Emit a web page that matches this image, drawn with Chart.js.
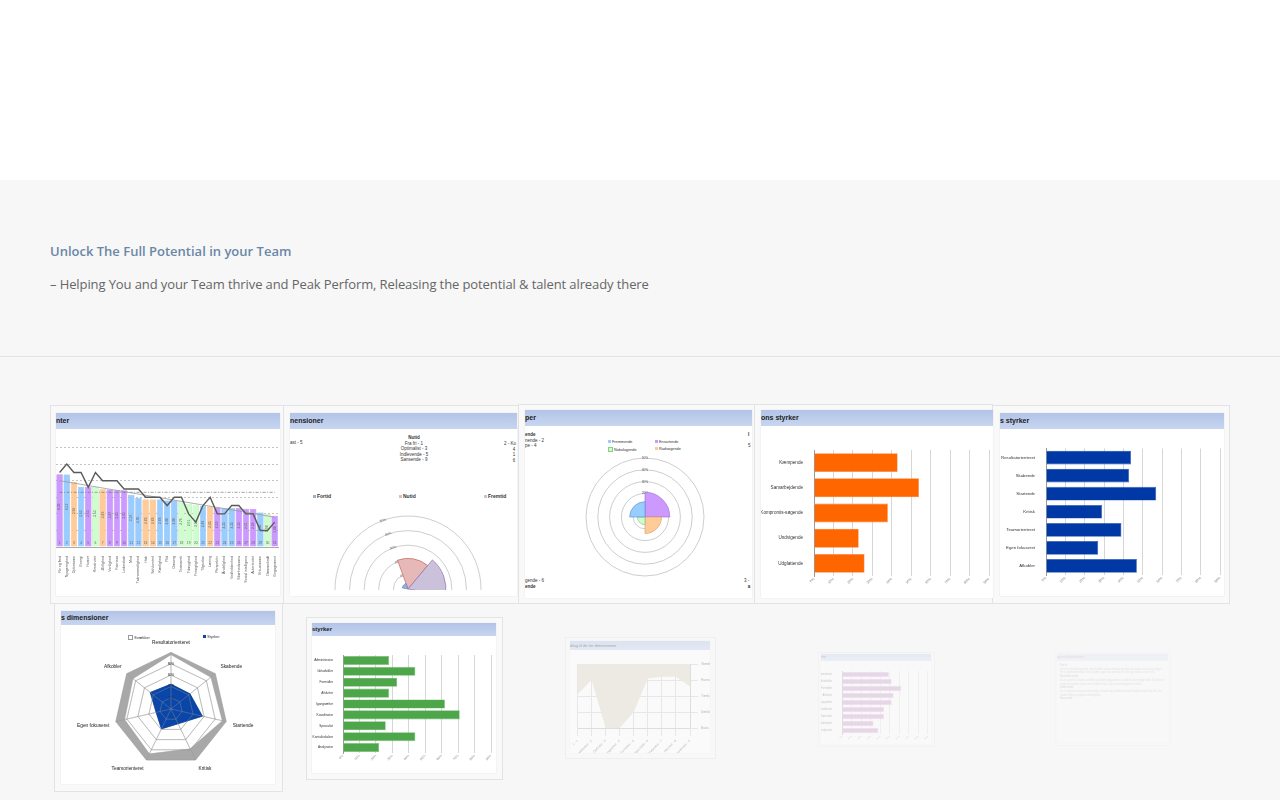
<!DOCTYPE html>
<html>
<head>
<meta charset="utf-8">
<script src="https://cdn.jsdelivr.net/npm/chart.js@4.4.1/dist/chart.umd.min.js"></script>
<style>
html,body{margin:0;padding:0}
body{width:1280px;height:800px;background:#f7f7f7;position:relative;overflow:hidden;font-family:'Open Sans',sans-serif}
#top{position:absolute;left:0;top:0;width:1280px;height:180px;background:#fff}
#rule{position:absolute;left:0;top:356px;width:1280px;height:1px;background:#e2e2e2}
.lead{position:absolute;left:50px;top:242px;font-size:13px;font-weight:600;color:#6a87a6;line-height:18px;white-space:nowrap}
.sub{position:absolute;left:50px;top:275px;font-size:13px;letter-spacing:-0.1px;color:#666;line-height:18px;white-space:nowrap}
.box{position:absolute;box-sizing:border-box;border:1px solid #e3e3e3;background:#f9f9f9}
.pic{position:absolute;background:#fff;overflow:hidden;box-shadow:0 0 1px rgba(0,0,0,.15)}
.hdr{position:absolute;left:0;top:0;right:0;background:linear-gradient(#b2c4e8,#c7d5ef);font-family:'Liberation Sans',Arial,sans-serif;font-weight:bold;color:#1d1d1d;white-space:nowrap}
.pic canvas{position:absolute}
.clip{position:absolute;left:0;top:0;right:0;overflow:hidden}
.t{position:absolute;font-family:'Liberation Sans',Arial,sans-serif;color:#333;white-space:nowrap;line-height:1}
.sw{display:inline-block;width:3px;height:3px;margin-right:1px;vertical-align:middle}
</style>
</head>
<body>
<div id="top"></div>
<div class="lead">Unlock The Full Potential in your Team</div>
<div class="sub">– Helping You and your Team thrive and Peak Perform, Releasing the potential &amp; talent already there</div>
<div id="rule"></div>

<!-- row 1 -->
<div class="box" style="left:50px;top:405px;width:234px;height:199px"></div>
<div class="box" style="left:283px;top:405px;width:236px;height:199px"></div>
<div class="box" style="left:518px;top:404px;width:237px;height:200px"></div>
<div class="box" style="left:754px;top:404px;width:239px;height:200px"></div>
<div class="box" style="left:992px;top:405px;width:238px;height:199px"></div>

<div class="pic" style="left:56px;top:413px;width:224px;height:183px">
  <div class="hdr" style="height:16px;font-size:7px;line-height:16px">nter</div>
  <canvas id="c1" width="224" height="166" style="left:0;top:17px"></canvas>
</div>

<div class="pic" style="left:290px;top:413px;width:227px;height:183px">
  <div class="hdr" style="height:16px;font-size:7px;line-height:16px">nensioner</div>
  <div class="t" style="left:74px;top:22px;width:100px;text-align:center;font-size:4.5px;line-height:5.5px"><b>Nutid</b><br>Fra fri - 1<br>Optimalist - 3<br>Indlevende - 5<br>Sansende - 9</div>
  <div class="t" style="left:0;top:28px;font-size:4.5px">ast - 5</div>
  <div class="t" style="left:214px;top:28px;font-size:4.5px;line-height:5.5px">2 - Ko<br>&nbsp;&nbsp;&nbsp;&nbsp;&nbsp;&nbsp;&nbsp;4<br>&nbsp;&nbsp;&nbsp;&nbsp;&nbsp;&nbsp;&nbsp;1<br>&nbsp;&nbsp;&nbsp;&nbsp;&nbsp;&nbsp;&nbsp;6</div>
  <div class="t" style="left:23px;top:81px;font-size:5px;font-weight:bold"><span class="sw" style="background:#95b3d7"></span>Fortid</div>
  <div class="t" style="left:109px;top:81px;font-size:5px;font-weight:bold"><span class="sw" style="background:#e6b9b8"></span>Nutid</div>
  <div class="t" style="left:194px;top:81px;font-size:5px;font-weight:bold"><span class="sw" style="background:#ccc1da"></span>Fremtid</div>
  <div class="clip" style="height:177px"><canvas id="c2" width="154" height="154" style="left:41px;top:99px"></canvas></div>
</div>

<div class="pic" style="left:525px;top:410px;width:227px;height:188px">
  <div class="hdr" style="height:16px;font-size:7px;line-height:16px">per</div>
  <div class="t" style="left:0;top:22px;font-size:4.5px;line-height:5.5px"><b>ende</b><br>nende - 2<br>pe - 4</div>
  <div class="t" style="left:0;top:168px;font-size:4.5px;line-height:5.5px">gende - 6<br><b>ende</b></div>
  <div class="t" style="left:223px;top:22px;font-size:4.5px;line-height:5.5px"><b>I</b><br><br>5</div>
  <div class="t" style="left:219px;top:168px;font-size:4.5px;line-height:5.5px">3 -<br>&nbsp;&nbsp;&nbsp;<b>a</b></div>
  <div class="t" style="left:83px;top:30px;font-size:3.8px"><span class="sw" style="background:#99ccff"></span>Fremmende</div>
  <div class="t" style="left:130px;top:30px;font-size:3.8px"><span class="sw" style="background:#cc99ff"></span>Ensartende</div>
  <div class="t" style="left:83px;top:37px;font-size:3.8px"><span class="sw" style="background:#ccffcc;border:0.3px solid #8c8"></span>Nabolagende</div>
  <div class="t" style="left:130px;top:37px;font-size:3.8px"><span class="sw" style="background:#ffcc99"></span>Rådsøgende</div>
  <canvas id="c3" width="126" height="126" style="left:57px;top:44px"></canvas>
</div>

<div class="pic" style="left:761px;top:410px;width:232px;height:188px">
  <div class="hdr" style="height:16px;font-size:7px;line-height:16px">ons styrker</div>
  <canvas id="c4" width="232" height="166" style="left:0;top:20px"></canvas>
</div>

<div class="pic" style="left:1000px;top:413px;width:224px;height:183px">
  <div class="hdr" style="height:16px;font-size:7px;line-height:16px">s styrker</div>
  <canvas id="c5" width="224" height="166" style="left:0;top:17px"></canvas>
</div>

<!-- row 2 -->
<div class="box" style="left:54px;top:603px;width:229px;height:189px"></div>
<div class="pic" style="left:61px;top:611px;width:214px;height:173px">
  <div class="hdr" style="height:14px;font-size:7px;line-height:14px">s dimensioner</div>
  <div class="t" style="left:67px;top:24px;font-size:4px"><span class="sw" style="background:#fff;border:0.4px solid #999"></span>Svækker</div>
  <div class="t" style="left:142px;top:24px;font-size:4px"><span class="sw" style="background:#0a46a8"></span>Styrker</div>
  <canvas id="c6" width="204" height="138" style="left:8px;top:26px"></canvas>
</div>

<div class="box" style="left:306px;top:617px;width:197px;height:163px"></div>
<div class="pic" style="left:312px;top:623px;width:184px;height:150px">
  <div class="hdr" style="height:13px;font-size:6px;line-height:13px">styrker</div>
  <canvas id="c7" width="184" height="136" style="left:0;top:14px"></canvas>
</div>

<div style="opacity:.4">
  <div class="box" style="left:565px;top:637px;width:151px;height:122px"></div>
  <div class="pic" style="left:570px;top:641px;width:140px;height:112px">
    <div class="hdr" style="height:9px;font-size:4px;line-height:9px;font-weight:normal">drag til de tre dimensioner</div>
    <canvas id="c8" width="140" height="102" style="left:0;top:10px"></canvas>
  </div>
</div>

<div style="opacity:.26">
  <div class="box" style="left:818px;top:652px;width:117px;height:95px"></div>
  <div class="pic" style="left:821px;top:654px;width:110px;height:90px">
    <div class="hdr" style="height:7px;font-size:3px;line-height:7px;font-weight:normal">rker</div>
    <canvas id="c9" width="110" height="82" style="left:0;top:8px"></canvas>
  </div>
</div>

<div style="opacity:.13">
  <div class="box" style="left:1055px;top:652px;width:116px;height:94px"></div>
  <div class="pic" style="left:1057px;top:654px;width:111px;height:89px">
    <div class="hdr" style="height:7px;font-size:3px;line-height:7px;font-weight:normal">ign med beskrivelser</div>
    <div class="t" style="left:3px;top:10px;width:105px;white-space:normal;font-size:2.6px;line-height:3.7px;color:#444">
      <b>Fra fri</b><br>Du er en praktisk person, der handler ud fra erfaring og fakta. Du tager ansvar og sørger for at opgaverne bliver løst til tiden, også når presset er stort og ressourcerne er få.<br>
      <b>Koordinerende</b><br>Du er god til at skabe overblik og fordele opgaverne, så alle får den rigtige rolle. Du lytter til andre og samler teamet om et fælles mål, selv når meningerne er delte.<br>
      <b>Indlevende</b><br>Du er opmærksom på stemningen i teamet og mærker hurtigt hvordan andre har det. Du skaber tillid og tryghed omkring dig.<br>
      <b>Sansende</b>
    </div>
  </div>
</div>

<script>
// --- talent overview (bars + score line)
const talentLabels = ['Ro og fred','Nysgerrighed','Optimisme','Energi','Humor','Kreativitet','Ærlighed','Venlighed','Fairness','Lederskab','Mod','Taknemmelighed','Håb','Selvkontrol','Kærlighed','Flid','Omsorg','Teamwork','Ydmyghed','Forsigtighed','Tilgivelse','Læring','Perspektiv','Åndelighed','Vedholdenhed','Skønhedssans','Social intelligens','Autenticitet','Entusiasme','Dømmekraft','Engagement'];
const talentScores = [4.39,4.37,3.92,3.63,3.63,3.63,3.49,3.47,3.43,3.43,3.16,2.96,2.86,2.86,2.86,2.80,2.80,2.76,2.61,2.55,2.49,2.45,2.39,2.35,2.35,2.35,2.31,2.29,2.08,1.98,1.88];
const talentGroups = ['P','B','O','B','P','G','O','P','P','P','B','B','O','O','B','B','B','G','G','G','B','O','P','B','B','P','P','P','B','G','P'];
const talentRanks = [4.5,5,4.5,4.5,3.6,4.5,4,4,4,3.5,3.5,3.5,3,3,3,2.5,3,3,2,1.5,2.5,3,2,2,2.5,2.5,2,2,1,1,1.5];
const talentTrendEnds = [4.0, 1.8];
const talentAverage = 3.3;

// --- time dimensions (polar, 60 degree slices)
const timeLabels = ['Nutid','Fremtid','','','','Fortid'];
const timeValues = [21,26,0,0,0,4];

// --- type quadrants, clockwise from the top
const typeLabels = ['Ensartende','Rådsøgende','Nabolagende','Fremmende'];
const typeValues = [21,14,6.5,13];

// --- conflict styles
const conflictLabels = ['Kæmpende','Samarbejdende','Kompromis-søgende','Undvigende','Udglattende'];
const conflictValues = [43,54,38,23,26];

// --- team dimensions
const dimLabels = ['Resultatorienteret','Skabende','Startende','Kritisk','Teamorienteret','Egen fokuseret','Afkobler'];
const dimStrengths = [44,43,57,29,39,27,47];
const dimWeakens = [96,90,93,78,88,84,86];

// --- team roles
const roleLabels = ['Administrator','Idéudvikler','Formidler','Afslutter','Igangsætter','Koordinator','Specialist','Kontaktskaber','Analysator'];
const roleValues = [28,44,33,28,62,71,26,44,22];

// --- contribution surface
const surfaceLabels = ['1 - 1','Kontaktskaber - 2','Opfinder - 3','Igangsætter - 4','Formidler - 5','Specialist - 6','Analysator - 7','Afslutter - 8','Koordinator - 9'];
const surfaceLevels = ['Basis - 99','Dækkende -','Tænkende -','Harmoni -','Glæde - 15'];
const surfaceTop = [4,4,4,4,4,4,4,4,4];
const surfaceLow = [2.1,3.0,0,0,1.0,3.1,3.2,3.2,2.6];

// --- pink strengths
const pinkLabels = ['Administrator','Idéudvikler','Formidler','Afslutter','Igangsætter','Koordinator','Specialist','Kontaktskaber','Analysator'];
const pinkValues = [49,52,62,54,52,44,44,33,38];

const percentTicks = [0,10,20,30,40,50,60,70,80,90];

Chart.defaults.animation = false;
Chart.defaults.responsive = false;
Chart.defaults.maintainAspectRatio = false;
Chart.defaults.plugins.legend.display = false;
Chart.defaults.plugins.tooltip.enabled = false;
Chart.defaults.font.family = "'Liberation Sans', Arial, sans-serif";
Chart.defaults.font.size = 4;
Chart.defaults.color = '#444';

const groupFill = {P:'#cc99ff', B:'#99ccff', O:'#ffcc99', G:'#ccffcc'};
const groupEdge = {P:'#a979dd', B:'#79a9dd', O:'#ddaa77', G:'#9fd69f'};

// value + rank text inside the bars
const barText = {
  id: 'barText',
  afterDatasetsDraw(chart) {
    const meta = chart.getDatasetMeta(3);
    const ctx = chart.ctx;
    ctx.save();
    ctx.fillStyle = '#666';
    ctx.font = "3.3px 'Liberation Sans', Arial";
    ctx.textAlign = 'center';
    ctx.textBaseline = 'middle';
    meta.data.forEach((bar, i) => {
      ctx.save();
      ctx.translate(bar.x, bar.y + (bar.base - bar.y) * 0.45);
      ctx.rotate(-Math.PI / 2);
      ctx.fillText(talentScores[i].toFixed(2).replace('.', ','), 0, 0);
      ctx.restore();
      ctx.fillText(String(i + 1), bar.x, bar.base - 3);
    });
    ctx.restore();
  }
};

new Chart(document.getElementById('c1'), {
  type: 'bar',
  data: {
    labels: talentLabels,
    datasets: [
      {type: 'line', data: talentRanks, borderColor: '#5a5a5a', borderWidth: 1.4, pointRadius: 0, tension: 0, order: 0},
      {type: 'line', data: [{x: talentLabels[0], y: talentTrendEnds[0]}, {x: talentLabels[talentLabels.length - 1], y: talentTrendEnds[1]}],
       borderColor: '#9a9a9a', borderWidth: 0.8, pointRadius: 0, order: 1},
      {type: 'line', data: [{x: talentLabels[0], y: talentAverage}, {x: talentLabels[talentLabels.length - 1], y: talentAverage}],
       borderColor: '#777', borderWidth: 0.7, borderDash: [3, 1.5, 1, 1.5], pointRadius: 0, order: 2},
      {type: 'bar', data: talentScores, backgroundColor: talentGroups.map(g => groupFill[g]), borderColor: talentGroups.map(g => groupEdge[g]),
       borderWidth: 0.5, barPercentage: 0.9, categoryPercentage: 1, order: 3}
    ]
  },
  options: {
    layout: {padding: {top: 1}},
    scales: {
      x: {grid: {display: false}, border: {color: '#aaa'},
          ticks: {font: {size: 3.6}, color: '#555', minRotation: 90, maxRotation: 90, autoSkip: false, padding: 1},
          afterFit(s) { s.height = 49; }},
      y: {min: 0, max: 7, ticks: {display: false, stepSize: 1},
          grid: {color: c => (c.tick && c.tick.value >= 7 ? 'rgba(0,0,0,0)' : '#c4c4c4'), drawTicks: false},
          border: {display: false, dash: [2, 2]}, afterFit(s) { s.width = 0; }}
    }
  },
  plugins: [barText]
});

function polar(id, labels, values, fill, edge, start) {
  return new Chart(document.getElementById(id), {
    type: 'polarArea',
    data: {labels, datasets: [{data: values, backgroundColor: fill, borderColor: edge, borderWidth: 0.6}]},
    options: {
      layout: {padding: 0},
      scales: {
        r: {min: 0, max: 50, startAngle: start,
            ticks: {stepSize: 10, font: {size: 3.3}, color: '#555', showLabelBackdrop: false, callback: v => v + '%'},
            grid: {color: '#b8b8b8', circular: true, lineWidth: 0.7},
            angleLines: {display: false}, pointLabels: {display: false}}
      }
    }
  });
}
polar('c2', timeLabels, timeValues,
  ['#e6b9b8', '#ccc1da', '#fff', '#fff', '#fff', '#95b3d7'],
  ['#c0504d', '#8064a2', '#fff', '#fff', '#fff', '#4f81bd'], -20);
polar('c3', typeLabels, typeValues,
  ['#cc99ff', '#ffcc99', '#ccffcc', '#99ccff'],
  ['#9a66cc', '#d9995c', '#7fbf7f', '#5b8fc9'], 0);

function barsH(id, labels, values, fill, edge, fit) {
  return new Chart(document.getElementById(id), {
    type: 'bar',
    data: {labels, datasets: [{data: values, backgroundColor: fill, borderColor: edge, borderWidth: 0.6,
                               barPercentage: fit.bar, categoryPercentage: 1}]},
    options: {
      indexAxis: 'y',
      layout: {padding: {top: fit.top, right: fit.right, left: 0, bottom: 0}},
      scales: {
        x: {min: 0, max: 90, afterBuildTicks(s) { s.ticks = percentTicks.map(v => ({value: v})); },
            ticks: {callback: v => v + '%', font: {size: fit.tick}, color: '#888', minRotation: 45, maxRotation: 45, padding: 1},
            grid: {color: '#d6d6d6', drawTicks: false}, border: {display: false},
            afterFit(s) { s.height = fit.xh; }},
        y: {ticks: {font: {size: fit.font}, color: '#333', padding: fit.pad}, grid: {display: false},
            border: {color: '#9a9a9a'}, afterFit(s) { s.width = fit.yw; }}
      }
    }
  });
}
barsH('c4', conflictLabels, conflictValues, '#ff6600', '#f48a4a', {bar: 0.75, top: 20, right: 2, xh: 20, yw: 53, font: 4.6, tick: 3.5, pad: 3});
barsH('c5', dimLabels, dimStrengths, '#0039a6', '#2f5bb0', {bar: 0.76, top: 18.5, right: 2, xh: 21, yw: 46, font: 4.3, tick: 3.5, pad: 3});
barsH('c7', roleLabels, roleValues, '#4ea64b', '#7cc07a', {bar: 0.83, top: 18, right: 5, xh: 20, yw: 31, font: 3.2, tick: 3.2, pad: 2});
barsH('c9', pinkLabels, pinkValues, '#b878b8', '#d0a6d0', {bar: 0.75, top: 9, right: 1, xh: 10, yw: 21, font: 2.6, tick: 2.4, pad: 2});

// radar: grid drawn again over the fills, as in the spreadsheet picture
const regrid = {
  id: 'regrid',
  afterDatasetsDraw(chart) {
    const s = chart.scales.r;
    s.drawGrid();
    s.drawLabels();
  }
};
new Chart(document.getElementById('c6'), {
  type: 'radar',
  data: {
    labels: dimLabels,
    datasets: [
      {label: 'Styrker', data: dimStrengths, backgroundColor: '#0a46a8', borderColor: '#0a3c94', borderWidth: 0.8, pointRadius: 0, fill: true},
      {label: 'Svækker', data: dimWeakens, backgroundColor: '#a8a8a8', borderColor: '#a0a0a0', borderWidth: 0.5, pointRadius: 0, fill: {value: 100}}
    ]
  },
  options: {
    scales: {
      r: {min: 0, max: 100,
          ticks: {stepSize: 20, font: {size: 3.3}, color: 'rgba(40,40,40,0.6)', showLabelBackdrop: false, callback: v => (v < 100 ? v + '%' : '')},
          grid: {color: 'rgba(150,150,150,0.65)', lineWidth: 0.6},
          angleLines: {color: 'rgba(150,150,150,0.65)', lineWidth: 0.6},
          pointLabels: {font: {size: 4.8}, color: 'rgba(40,40,40,0.6)', padding: 3}}
    }
  },
  plugins: [regrid]
});

new Chart(document.getElementById('c8'), {
  type: 'line',
  data: {
    labels: surfaceLabels,
    datasets: [
      {data: surfaceTop, borderWidth: 0, pointRadius: 0, fill: false},
      {data: surfaceLow, borderWidth: 0, pointRadius: 0, fill: '-1', backgroundColor: '#dcd7c2'}
    ]
  },
  options: {
    layout: {padding: {left: 5, top: 13}},
    scales: {
      x: {offset: false, grid: {color: '#cfcfcf'}, ticks: {font: {size: 3.2}, color: '#555', minRotation: 45, maxRotation: 45, autoSkip: false},
          afterFit(s) { s.height = 25; }},
      y: {position: 'right', min: 0, max: 4, ticks: {stepSize: 1, font: {size: 3.2}, color: '#555', callback: v => surfaceLevels[v]},
          grid: {color: '#cfcfcf'}, afterFit(s) { s.width = 20; }}
    }
  }
});
</script>
</body>
</html>
